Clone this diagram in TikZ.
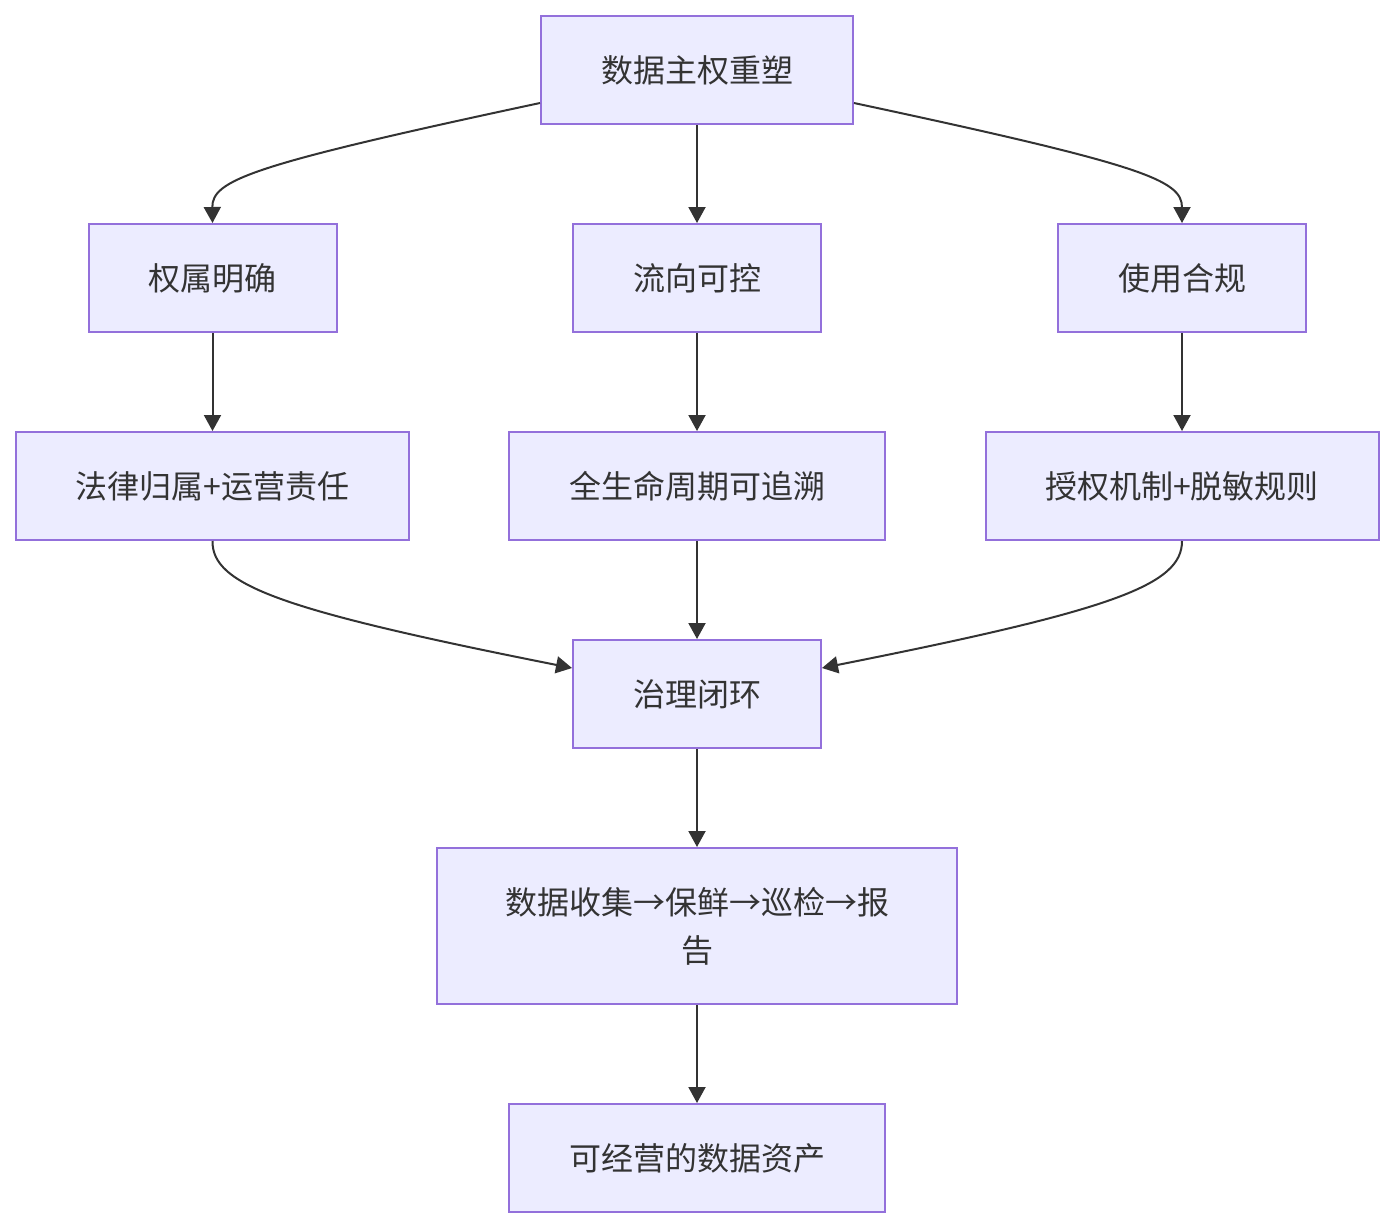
\documentclass[tikz,border=0pt]{standalone}
\usepackage{fontspec}
\newfontfamily\cjk{Noto Sans CJK SC}
\usetikzlibrary{arrows.meta}
\definecolor{boxfill}{HTML}{ECECFF}
\definecolor{boxline}{HTML}{9370DB}
\definecolor{edgeline}{HTML}{333333}
\tikzset{
  box/.style={draw=boxline, line width=1pt, rectangle, fill=boxfill, text=edgeline,
    font=\cjk\fontsize{16pt}{24pt}\selectfont, align=center, minimum height=54pt, inner sep=0pt},
  flow/.style={draw=edgeline, line width=1pt, -{Triangle[length=8pt,width=8.5pt]}}
}
\begin{document}
\begin{tikzpicture}[x=0.5pt, y=-0.5pt, node distance=104pt]
    \useasboundingbox (0,0) rectangle (1393,1228);

    \node[box, minimum width=156pt] (root) at (697,70) {数据主权重塑};
    \node[box, minimum width=124pt, below of=root] (flowctl) {流向可控};
    \node[box, minimum width=124pt, left of=flowctl, xshift=-138.25pt] (owner) {权属明确};
    \node[box, minimum width=124pt, right of=flowctl, xshift=138.5pt] (comply) {使用合规};
    \node[box, minimum width=188pt, below of=flowctl] (trace) {全生命周期可追溯};
    \node[box, minimum width=196.5pt, below of=owner] (legal) {法律归属+运营责任};
    \node[box, minimum width=196.5pt, below of=comply] (auth) {授权机制+脱敏规则};
    \node[box, minimum width=124pt, below of=trace] (loop) {治理闭环};
    \node[box, minimum width=260pt, minimum height=78pt, below of=loop, yshift=-12pt] (cycle) {数据收集→保鲜→巡检→报\\告};
    \node[box, minimum width=188pt, below of=cycle, yshift=-12pt] (asset) {可经营的数据资产};

    \draw[flow] (root.west |- 0,103) .. controls (250,165) and (212,180) .. (owner.north);
    \draw[flow] (root) -- (flowctl);
    \draw[flow] (root.east |- 0,103) .. controls (1144,165) and (1182,180) .. (comply.north);
    \draw[flow] (owner) -- (legal);
    \draw[flow] (flowctl) -- (trace);
    \draw[flow] (comply) -- (auth);
    \draw[flow] (legal.south) .. controls (212,585) and (280,610) .. (loop.west |- 0,668);
    \draw[flow] (trace) -- (loop);
    \draw[flow] (auth.south) .. controls (1182,585) and (1114,610) .. (loop.east |- 0,668);
    \draw[flow] (loop) -- (cycle);
    \draw[flow] (cycle) -- (asset);
\end{tikzpicture}
\end{document}
